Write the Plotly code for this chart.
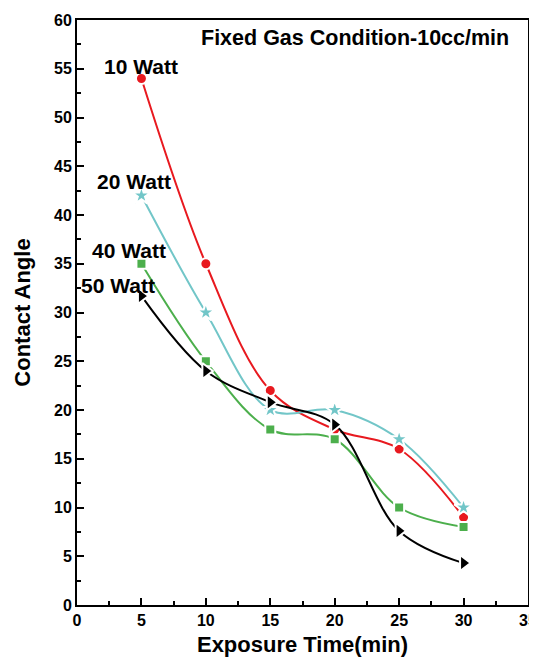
import plotly.graph_objects as go

time_min = [5, 10, 15, 20, 25, 30]
w10 = [54, 35, 22, 18, 16, 9]
w20 = [42, 30, 20, 20, 17, 10]
w40 = [35, 25, 18, 17, 10, 8]
w50 = [31.7, 24, 20.8, 18.5, 7.6, 4.3]

series = [
    ("10 Watt", w10, "#e8191f", "circle", 11),
    ("20 Watt", w20, "#72c6c8", "star", 14),
    ("40 Watt", w40, "#4caf4c", "square", 10),
    ("50 Watt", w50, "#000000", "triangle-right", 14),
]

FONT = "Liberation Sans, Arial, Helvetica, sans-serif"

fig = go.Figure()
for name, vals, color, sym, size in series:
    fig.add_trace(go.Scatter(
        x=time_min, y=vals, mode="lines+markers", name=name,
        line=dict(color=color, width=2, shape="spline", smoothing=1.0),
        marker=dict(symbol=sym, size=size, color=color,
                    line=dict(color="white", width=2)),
        showlegend=False,
    ))

labels = [("10 Watt", 4.95, 55.2), ("20 Watt", 4.4, 43.4),
          ("40 Watt", 4.0, 36.4), ("50 Watt", 3.2, 32.8)]
for txt, x, y in labels:
    fig.add_annotation(x=x, y=y, text=txt, showarrow=False,
                       font=dict(family=FONT, size=21, color="black", weight="bold"))

fig.add_annotation(x=33.7, y=58.2, text="Fixed Gas Condition-10cc/min",
                   showarrow=False, xanchor="right",
                   font=dict(family=FONT, size=21.5, color="black", weight="bold"))

axis_common = dict(
    showgrid=False, zeroline=False, showline=True, linecolor="black",
    linewidth=2, mirror=True, ticks="inside", ticklen=7, tickwidth=1.5,
    tickcolor="black", tickfont=dict(family=FONT, size=16, color="black", weight="bold"),
    automargin=False,
)

fig.update_xaxes(range=[0, 35], dtick=5, tick0=0,
                 minor=dict(dtick=2.5, ticks="inside", ticklen=4, tickwidth=1.5, tickcolor="black"),
                 title=dict(text="Exposure Time(min)", font=dict(family=FONT, size=22, color="black", weight="bold"), standoff=8),
                 **axis_common)
fig.update_yaxes(range=[0, 60], dtick=5, tick0=0,
                 minor=dict(dtick=2.5, ticks="inside", ticklen=4, tickwidth=1.5, tickcolor="black"),
                 title=dict(text="Contact Angle", font=dict(family=FONT, size=22, color="black", weight="bold"), standoff=17),
                 **axis_common)

fig.update_layout(
    width=537, height=654,
    margin=dict(l=69, r=17, t=12, b=57, autoexpand=False),
    plot_bgcolor="white", paper_bgcolor="white",
    font=dict(family=FONT),
)

fig.write_html("out.html")
